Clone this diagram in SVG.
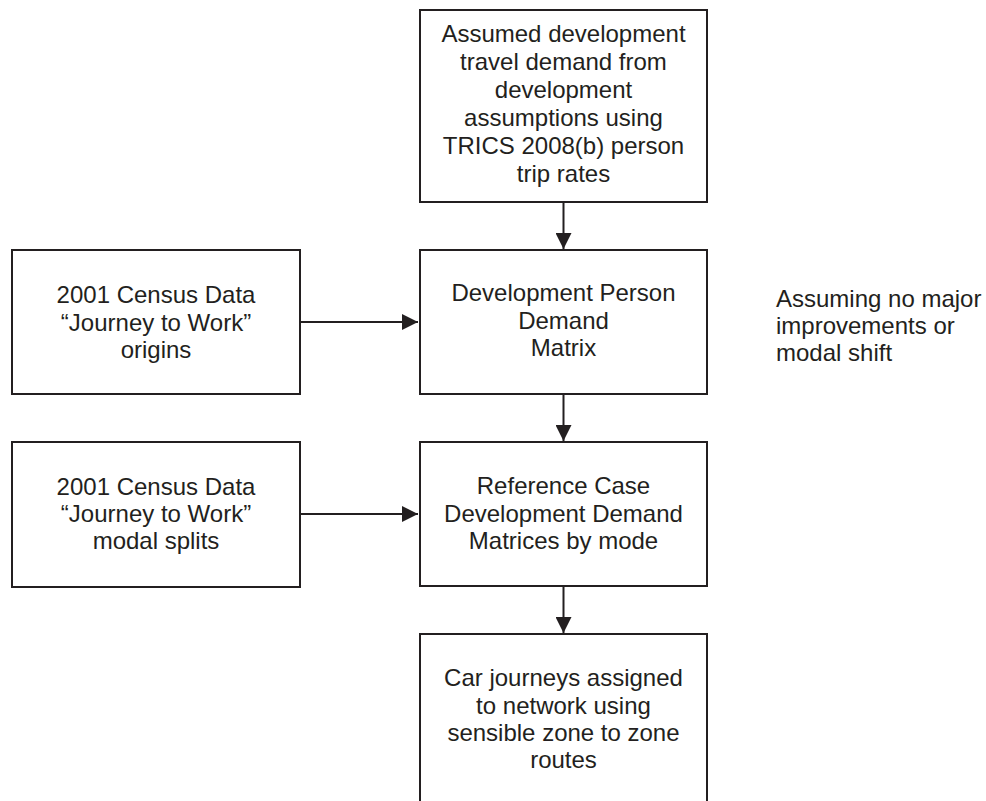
<svg xmlns="http://www.w3.org/2000/svg" width="986" height="801" viewBox="0 0 986 801">
  <style>
    .box { fill: #ffffff; stroke: #231f20; stroke-width: 2; }
    .lbl { font-family: "Liberation Sans", Arial, sans-serif; font-size: 24px; fill: #231f20; text-anchor: middle; }
    .note { font-family: "Liberation Sans", Arial, sans-serif; font-size: 24px; fill: #231f20; }
    .conn { stroke: #231f20; stroke-width: 2; fill: none; }
  </style>
  <defs>
    <marker id="arrow" viewBox="0 0 16 16" refX="16" refY="8" markerWidth="16" markerHeight="16" markerUnits="userSpaceOnUse" orient="auto">
      <path d="M0,0 L16,8 L0,16 Z" fill="#231f20"/>
    </marker>
  </defs>
  <rect width="986" height="801" fill="#ffffff"/>

  <g id="trip-rates">
    <rect class="box" x="420" y="10" width="287" height="192"/>
    <text class="lbl" x="563.5" y="42">Assumed development</text>
    <text class="lbl" x="563.5" y="70">travel demand from</text>
    <text class="lbl" x="563.5" y="98">development</text>
    <text class="lbl" x="563.5" y="126">assumptions using</text>
    <text class="lbl" x="563.5" y="154">TRICS 2008(b) person</text>
    <text class="lbl" x="563.5" y="182">trip rates</text>
  </g>

  <g id="census-origins">
    <rect class="box" x="12" y="250" width="288" height="144"/>
    <text class="lbl" x="156" y="303">2001 Census Data</text>
    <text class="lbl" x="156" y="330.5">“Journey to Work”</text>
    <text class="lbl" x="156" y="358">origins</text>
  </g>

  <g id="person-demand">
    <rect class="box" x="420" y="250" width="287" height="144"/>
    <text class="lbl" x="563.5" y="301">Development Person</text>
    <text class="lbl" x="563.5" y="328.5">Demand</text>
    <text class="lbl" x="563.5" y="356">Matrix</text>
  </g>

  <g id="assumption-note">
    <text class="note" x="776" y="307">Assuming no major</text>
    <text class="note" x="776" y="334">improvements or</text>
    <text class="note" x="776" y="361">modal shift</text>
  </g>

  <g id="census-modal">
    <rect class="box" x="12" y="442" width="288" height="145"/>
    <text class="lbl" x="156" y="494.5">2001 Census Data</text>
    <text class="lbl" x="156" y="522">“Journey to Work”</text>
    <text class="lbl" x="156" y="549">modal splits</text>
  </g>

  <g id="mode-matrices">
    <rect class="box" x="420" y="442" width="287" height="144"/>
    <text class="lbl" x="563.5" y="494">Reference Case</text>
    <text class="lbl" x="563.5" y="521.5">Development Demand</text>
    <text class="lbl" x="563.5" y="548.5">Matrices by mode</text>
  </g>

  <g id="car-assignment">
    <path class="box" d="M420,802 L420,634 L707,634 L707,802"/>
    <text class="lbl" x="563.5" y="686">Car journeys assigned</text>
    <text class="lbl" x="563.5" y="713.5">to network using</text>
    <text class="lbl" x="563.5" y="741">sensible zone to zone</text>
    <text class="lbl" x="563.5" y="768">routes</text>
  </g>

  <g id="connectors">
    <line class="conn" x1="563.5" y1="202" x2="563.5" y2="249" marker-end="url(#arrow)"/>
    <line class="conn" x1="300" y1="322" x2="418" y2="322" marker-end="url(#arrow)"/>
    <line class="conn" x1="563.5" y1="394" x2="563.5" y2="441" marker-end="url(#arrow)"/>
    <line class="conn" x1="300" y1="514" x2="418" y2="514" marker-end="url(#arrow)"/>
    <line class="conn" x1="563.5" y1="586" x2="563.5" y2="633" marker-end="url(#arrow)"/>
  </g>
</svg>
